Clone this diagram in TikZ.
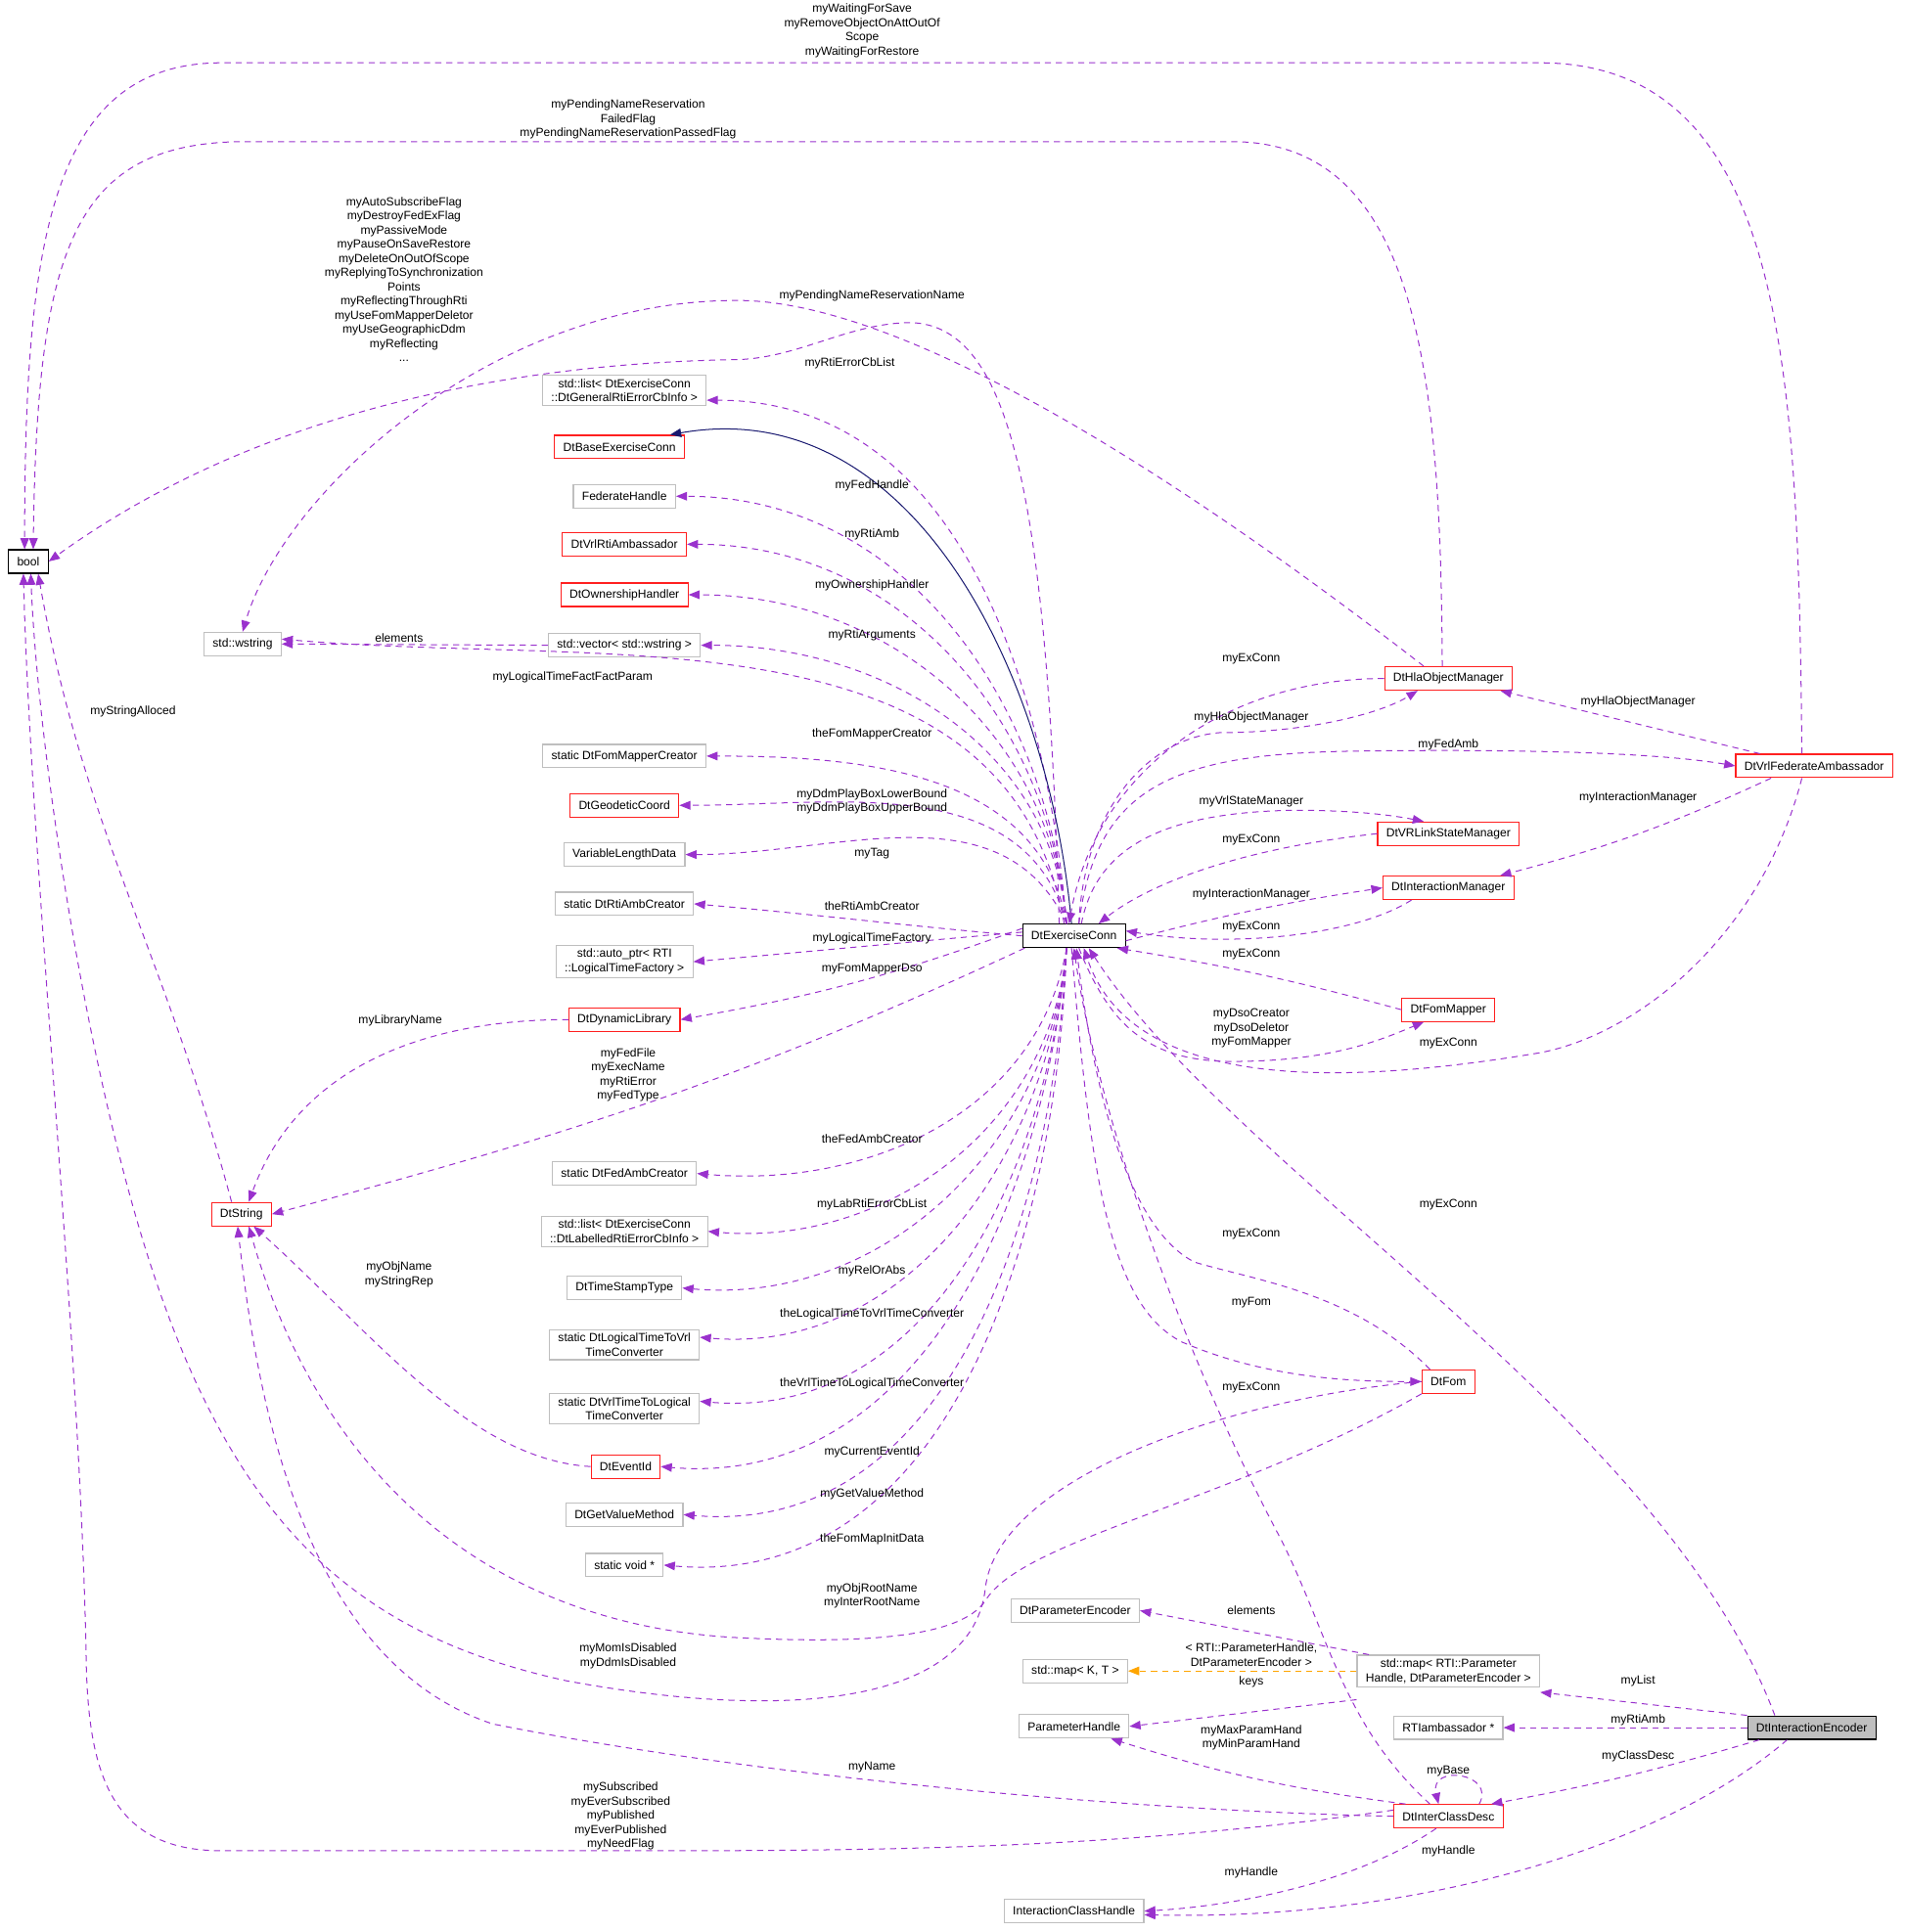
\documentclass[tikz,border=0pt]{standalone}
\usepackage{fontspec}
\setmainfont{Liberation Sans}
\usetikzlibrary{arrows.meta}
\definecolor{mpurple}{HTML}{9A32CD}
\definecolor{mnavy}{HTML}{191970}
\definecolor{morange}{HTML}{FFA500}
\definecolor{mgray}{HTML}{BFBFBF}
\definecolor{mred}{HTML}{FF2020}
\newcommand\lbl[3]{\node[lab] (#1) at (#2) {#3};}
\begin{document}
\begin{tikzpicture}[x=1pt,y=-1pt,
  every node/.style={font=\fontsize{9.6}{11.5}\selectfont},
  box/.style={draw=mgray,line width=0.9pt,fill=white,minimum height=19pt,inner xsep=7pt,inner ysep=3pt,align=center},
  rbox/.style={box,draw=mred},
  kbox/.style={box,draw=black},
  lab/.style={align=center,inner sep=0pt},
  m/.style={draw=mpurple,line width=0.8pt,dash pattern=on 5pt off 4pt,-{Triangle[length=9pt,width=7pt]}},
  inh/.style={draw=mnavy,line width=0.8pt,-{Triangle[length=9pt,width=7pt]}},
  tpl/.style={draw=morange,line width=0.8pt,dash pattern=on 5pt off 4pt,-{Triangle[length=9pt,width=7pt]}}]
\useasboundingbox (0,0) rectangle (1547,1569);
% nodes
\node[kbox] (bool) at (23,456) {bool};
\node[box] (wstr) at (197,523) {std::wstring};
\node[rbox] (dstr) at (196,986) {DtString};
\node[box] (lg) at (507,317) {std::list< DtExerciseConn\\::DtGeneralRtiErrorCbInfo >};
\node[rbox] (base) at (503,363) {DtBaseExerciseConn};
\node[box] (fedh) at (507,403) {FederateHandle};
\node[rbox] (vrtia) at (507,442) {DtVrlRtiAmbassador};
\node[rbox] (owner) at (507,483) {DtOwnershipHandler};
\node[box] (vec) at (507,524) {std::vector< std::wstring >};
\node[box] (fmc) at (507,614) {static DtFomMapperCreator};
\node[rbox] (geo) at (507,654) {DtGeodeticCoord};
\node[box] (vld) at (507,694) {VariableLengthData};
\node[box] (rac) at (507,734) {static DtRtiAmbCreator};
\node[box] (aptr) at (507,781) {std::auto\_ptr< RTI\\::LogicalTimeFactory >};
\node[rbox] (dyn) at (507,828) {DtDynamicLibrary};
\node[box] (fac) at (507,953) {static DtFedAmbCreator};
\node[box] (ll) at (507,1000) {std::list< DtExerciseConn\\::DtLabelledRtiErrorCbInfo >};
\node[box] (tst) at (507,1046) {DtTimeStampType};
\node[box] (l2v) at (507,1092) {static DtLogicalTimeToVrl\\TimeConverter};
\node[box] (v2l) at (507,1144) {static DtVrlTimeToLogical\\TimeConverter};
\node[rbox] (evt) at (508,1191) {DtEventId};
\node[box] (gvm) at (507,1230) {DtGetValueMethod};
\node[box] (svoid) at (507,1271) {static void *};
\node[kbox] (ec) at (872,760) {DtExerciseConn};
\node[rbox] (hla) at (1176,551) {DtHlaObjectManager};
\node[rbox] (vfa) at (1473,622) {DtVrlFederateAmbassador};
\node[rbox] (vrl) at (1176,677) {DtVRLinkStateManager};
\node[rbox] (im) at (1176,721) {DtInteractionManager};
\node[rbox] (fm) at (1176,820) {DtFomMapper};
\node[rbox] (fom) at (1176,1122) {DtFom};
\node[box] (pe) at (873,1308) {DtParameterEncoder};
\node[box] (mkt) at (873,1357) {std::map< K, T >};
\node[box] (ph) at (872,1402) {ParameterHandle};
\node[box] (ich) at (872,1552) {InteractionClassHandle};
\node[box] (mrti) at (1176,1357) {std::map< RTI::Parameter\\Handle, DtParameterEncoder >};
\node[box] (rtia) at (1176,1403) {RTIambassador *};
\node[rbox] (icd) at (1176,1475) {DtInterClassDesc};
\node[kbox,fill=mgray] (ie) at (1471,1403) {DtInteractionEncoder};
% long edges to bool / wstring
\draw[m] ([xshift=-10]vfa.north) .. controls (1460,300) and (1450,51) .. (1250,51) -- (180,51) .. controls (40,51) and (20,200) .. ([xshift=-3]bool.north);
\draw[m] ([xshift=-5]hla.north) .. controls (1170,300) and (1150,115) .. (1000,115) -- (200,115) .. controls (60,115) and (30,200) .. ([xshift=4]bool.north);
\draw[m] ([xshift=-12]ec.north) .. controls (850,400) and (820,265) .. (740,262) .. controls (690,262) and (650,290) .. (600,292) .. controls (400,295) and (200,340) .. (bool.east);
\draw[m] ([xshift=-20]hla.north) .. controls (1000,420) and (750,245) .. (600,244) .. controls (400,243) and (230,400) .. (wstr.north);
% ec to left column
\draw[m] ([xshift=-6]ec.north) to[out=95,in=0] ([yshift=-8]lg.east);
\draw[inh] ([xshift=-2]ec.north) to[out=95,in=10] ([xshift=-12]base.north east);
\draw[m] ([xshift=-6]ec.north) to[out=95,in=0] (fedh.east);
\draw[m] ([xshift=-6]ec.north) to[out=95,in=0] (vrtia.east);
\draw[m] ([xshift=-6]ec.north) to[out=95,in=0] (owner.east);
\draw[m] ([xshift=-6]ec.north) to[out=95,in=0] (vec.east);
\draw[m] ([xshift=-8]ec.north) to[out=100,in=-5] ([yshift=4]wstr.east);
\draw[m] ([xshift=-6]ec.north) to[out=100,in=0] (fmc.east);
\draw[m] ([xshift=-6]ec.north) to[out=105,in=0] (geo.east);
\draw[m] ([xshift=-6]ec.north) to[out=115,in=0] (vld.east);
\draw[m] (ec.west) to[out=175,in=-5] (rac.east);
\draw[m] ([yshift=3]ec.west) to[out=185,in=5] (aptr.east);
\draw[m] ([yshift=6]ec.west) to[out=200,in=10] (dyn.east);
\draw[m] ([xshift=-40]ec.south) to[out=205,in=15] (dstr.east);
\draw[m] ([xshift=-6]ec.south) to[out=-100,in=-5] (fac.east);
\draw[m] ([xshift=-6]ec.south) to[out=-95,in=-5] (ll.east);
\draw[m] ([xshift=-6]ec.south) to[out=-95,in=-5] (tst.east);
\draw[m] ([xshift=-6]ec.south) to[out=-95,in=-5] ([yshift=6]l2v.east);
\draw[m] ([xshift=-6]ec.south) to[out=-95,in=-5] ([yshift=6]v2l.east);
\draw[m] ([xshift=-6]ec.south) to[out=-95,in=-5] (evt.east);
\draw[m] ([xshift=-6]ec.south) to[out=-93,in=-5] (gvm.east);
\draw[m] ([xshift=-6]ec.south) to[out=-92,in=-5] (svoid.east);
% left column internals
\draw[m] (vec.west) -- (wstr.east);
\draw[m] (dyn.west) to[out=180,in=70] ([xshift=6]dstr.north);
\draw[m] (evt.west) .. controls (380,1185) and (300,1080) .. ([xshift=10]dstr.south);
\draw[m] ([xshift=-8]dstr.north) to[out=105,in=-80] ([xshift=8]bool.south);
\draw[m] (fom.west) .. controls (1000,1135) and (810,1200) .. (800,1290) .. controls (790,1380) and (650,1400) .. (460,1365) .. controls (300,1330) and (200,1250) .. (130,1050) .. controls (70,880) and (30,600) .. ([xshift=2]bool.south);
\draw[m] (fom.south west) .. controls (1000,1220) and (830,1250) .. (800,1300) .. controls (780,1330) and (700,1335) .. (600,1330) .. controls (400,1320) and (260,1200) .. ([xshift=6]dstr.south);
\draw[m] (icd.west) .. controls (900,1470) and (600,1440) .. (400,1400) .. controls (250,1350) and (210,1150) .. ([xshift=-3]dstr.south);
\draw[m] ([yshift=5]icd.west) .. controls (900,1503) and (700,1503) .. (500,1503) -- (180,1503) .. controls (90,1503) and (72,1440) .. (70,1350) .. controls (66,1100) and (25,700) .. ([xshift=-4]bool.south);
% right side
\draw[m] (hla.west) to[out=180,in=80] ([xshift=-4]ec.north);
\draw[m] ([xshift=4]ec.north) .. controls (880,660) and (930,600) .. (990,595) .. controls (1060,595) and (1120,580) .. ([xshift=-25]hla.south);
\draw[m] ([xshift=4]ec.north) .. controls (890,640) and (950,612) .. (1100,610) .. controls (1250,608) and (1350,612) .. (vfa.west);
\draw[m] ([xshift=20]vfa.north west) -- ([xshift=-10]hla.south east);
\draw[m] ([xshift=-35]vfa.south) to[bend left=5] ([xshift=42]im.north);
\draw[m] ([xshift=6]ec.north) .. controls (890,690) and (940,660) .. (1050,658) .. controls (1100,658) and (1130,662) .. ([xshift=-20]vrl.north);
\draw[m] (vrl.west) .. controls (1000,690) and (930,720) .. ([xshift=20]ec.north);
\draw[m] ([yshift=-4]ec.east) to[bend left=3] (im.west);
\draw[m] ([xshift=-30]im.south) .. controls (1100,760) and (1000,770) .. ([yshift=4]ec.east);
\draw[m] (fm.west) to[bend right=3] ([xshift=35]ec.south);
\draw[m] ([xshift=4]ec.south) .. controls (900,830) and (930,862) .. (1000,862) .. controls (1080,862) and (1120,845) .. ([xshift=-20]fm.south);
\draw[m] ([xshift=-10]vfa.south) .. controls (1430,760) and (1330,840) .. (1250,855) .. controls (1100,880) and (920,890) .. ([xshift=8]ec.south);
\draw[m] ([xshift=-30]ie.north) .. controls (1350,1150) and (1000,950) .. ([xshift=12]ec.south);
\draw[m] ([xshift=-15]fom.north) .. controls (1100,1050) and (1020,1040) .. (970,1025) .. controls (920,1000) and (890,900) .. ([xshift=2]ec.south);
\draw[m] ([xshift=-2]ec.south) .. controls (885,950) and (900,1060) .. (960,1090) .. controls (1030,1120) and (1100,1122) .. (fom.west);
\draw[m] ([xshift=-15]icd.north) .. controls (1090,1400) and (1080,1330) .. (1040,1250) .. controls (960,1100) and (890,900) .. (ec.south);
% bottom right
\draw[m] ([xshift=10]mrti.north west) -- (pe.east);
\draw[tpl] (mrti.west) -- (mkt.east);
\draw[m] ([yshift=-10]mrti.south west) -- (ph.east);
\draw[m] ([xshift=10]icd.north west) to[bend left=5] ([xshift=30]ph.south);
\draw[m] (ie.north west) -- ([yshift=-4]mrti.south east);
\draw[m] (ie.west) -- (rtia.east);
\draw[m] ([xshift=10]ie.south west) to[bend left=3] ([xshift=-10]icd.north east);
\draw[m] ([xshift=25]icd.north) .. controls (1215,1440) and (1160,1432) .. ([xshift=-8]icd.north);
\draw[m] ([xshift=-10]icd.south) .. controls (1100,1530) and (1000,1548) .. (ich.east);
\draw[m] ([xshift=-20]ie.south) .. controls (1350,1500) and (1150,1560) .. ([yshift=-3]ich.east);
% labels
\lbl{a1}{700,25}{myWaitingForSave\\myRemoveObjectOnAttOutOf\\Scope\\myWaitingForRestore}
\lbl{a2}{510,97}{myPendingNameReservation\\FailedFlag\\myPendingNameReservationPassedFlag}
\lbl{a3}{328,227}{myAutoSubscribeFlag\\myDestroyFedExFlag\\myPassiveMode\\myPauseOnSaveRestore\\myDeleteOnOutOfScope\\myReplyingToSynchronization\\Points\\myReflectingThroughRti\\myUseFomMapperDeletor\\myUseGeographicDdm\\myReflecting\\...}
\lbl{a4}{708,240}{myPendingNameReservationName}
\lbl{a5}{690,295}{myRtiErrorCbList}
\lbl{a6}{708,394}{myFedHandle}
\lbl{a7}{708,434}{myRtiAmb}
\lbl{a8}{708,475}{myOwnershipHandler}
\lbl{a9}{708,516}{myRtiArguments}
\lbl{a10}{324,518}{elements}
\lbl{a11}{465,550}{myLogicalTimeFactFactParam}
\lbl{a12}{708,596}{theFomMapperCreator}
\lbl{a13}{708,651}{myDdmPlayBoxLowerBound\\myDdmPlayBoxUpperBound}
\lbl{a14}{708,693}{myTag}
\lbl{a15}{708,736}{theRtiAmbCreator}
\lbl{a16}{708,762}{myLogicalTimeFactory}
\lbl{a17}{708,787}{myFomMapperDso}
\lbl{a18}{325,829}{myLibraryName}
\lbl{a19}{510,873}{myFedFile\\myExecName\\myRtiError\\myFedType}
\lbl{a20}{708,925}{theFedAmbCreator}
\lbl{a21}{708,978}{myLabRtiErrorCbList}
\lbl{a22}{708,1032}{myRelOrAbs}
\lbl{a23}{708,1067}{theLogicalTimeToVrlTimeConverter}
\lbl{a24}{708,1124}{theVrlTimeToLogicalTimeConverter}
\lbl{a25}{708,1179}{myCurrentEventId}
\lbl{a26}{708,1213}{myGetValueMethod}
\lbl{a27}{708,1250}{theFomMapInitData}
\lbl{a28}{708,1296}{myObjRootName\\myInterRootName}
\lbl{a29}{324,1035}{myObjName\\myStringRep}
\lbl{a30}{108,578}{myStringAlloced}
\lbl{a31}{510,1345}{myMomIsDisabled\\myDdmIsDisabled}
\lbl{a32}{708,1435}{myName}
\lbl{a33}{504,1475}{mySubscribed\\myEverSubscribed\\myPublished\\myEverPublished\\myNeedFlag}
\lbl{b1}{1016,535}{myExConn}
\lbl{b2}{1016,583}{myHlaObjectManager}
\lbl{b3}{1176,605}{myFedAmb}
\lbl{b4}{1330,570}{myHlaObjectManager}
\lbl{b5}{1330,648}{myInteractionManager}
\lbl{b6}{1016,651}{myVrlStateManager}
\lbl{b7}{1016,682}{myExConn}
\lbl{b8}{1016,726}{myInteractionManager}
\lbl{b9}{1016,753}{myExConn}
\lbl{b10}{1016,775}{myExConn}
\lbl{b11}{1016,835}{myDsoCreator\\myDsoDeletor\\myFomMapper}
\lbl{b12}{1176,847}{myExConn}
\lbl{b13}{1176,978}{myExConn}
\lbl{b14}{1016,1002}{myExConn}
\lbl{b15}{1016,1058}{myFom}
\lbl{b16}{1016,1127}{myExConn}
\lbl{b17}{1016,1308}{elements}
\lbl{b18}{1016,1344}{< RTI::ParameterHandle,\\DtParameterEncoder >}
\lbl{b19}{1016,1366}{keys}
\lbl{b20}{1016,1411}{myMaxParamHand\\myMinParamHand}
\lbl{b21}{1330,1365}{myList}
\lbl{b22}{1330,1397}{myRtiAmb}
\lbl{b23}{1330,1426}{myClassDesc}
\lbl{b24}{1176,1438}{myBase}
\lbl{b25}{1016,1521}{myHandle}
\lbl{b26}{1176,1503}{myHandle}
\end{tikzpicture}
\end{document}
